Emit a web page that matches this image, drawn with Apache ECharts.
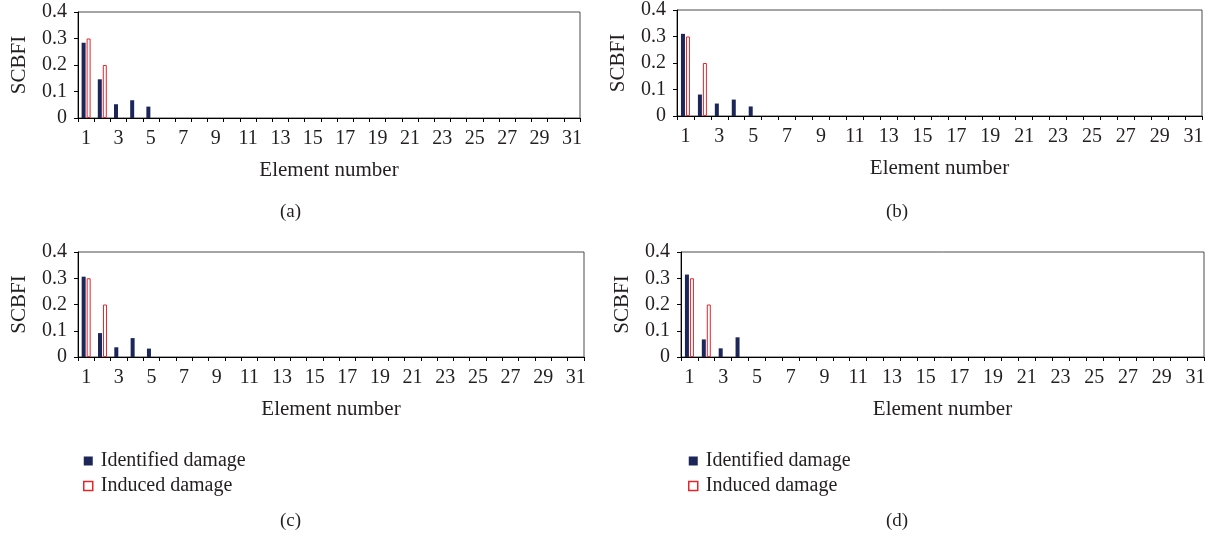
<!DOCTYPE html>
<html>
<head>
<meta charset="utf-8">
<title>SCBFI</title>
<script src="https://cdn.jsdelivr.net/npm/echarts@6/dist/echarts.min.js"></script>
<style>
  html, body { margin: 0; padding: 0; background: #fff; }
  #chart { width: 1213px; height: 541px; }
</style>
</head>
<body>
<div id="chart"></div>
<script>
// element numbers along the x axis
var elements = ['1', '2', '3', '4', '5', '6', '7', '8', '9', '10', '11', '12', '13', '14', '15', '16',
  '17', '18', '19', '20', '21', '22', '23', '24', '25', '26', '27', '28', '29', '30', '31']

// identified damage, one array per panel
var identifiedA = [0.284, 0.146, 0.052, 0.067, 0.043, 0, 0, 0, 0, 0, 0, 0, 0, 0, 0, 0, 0, 0, 0, 0, 0, 0, 0, 0, 0, 0, 0, 0, 0, 0, 0]
var identifiedB = [0.31, 0.081, 0.047, 0.062, 0.036, 0, 0, 0, 0, 0, 0, 0, 0, 0, 0, 0, 0, 0, 0, 0, 0, 0, 0, 0, 0, 0, 0, 0, 0, 0, 0]
var identifiedC = [0.306, 0.091, 0.037, 0.072, 0.032, 0, 0, 0, 0, 0, 0, 0, 0, 0, 0, 0, 0, 0, 0, 0, 0, 0, 0, 0, 0, 0, 0, 0, 0, 0, 0]
var identifiedD = [0.314, 0.067, 0.033, 0.075, 0, 0, 0, 0, 0, 0, 0, 0, 0, 0, 0, 0, 0, 0, 0, 0, 0, 0, 0, 0, 0, 0, 0, 0, 0, 0, 0]
// induced damage (same scenario in every panel)
var induced = [0.3, 0.2, 0, 0, 0, 0, 0, 0, 0, 0, 0, 0, 0, 0, 0, 0, 0, 0, 0, 0, 0, 0, 0, 0, 0, 0, 0, 0, 0, 0, 0]

var panelLabels = ['(a)', '(b)', '(c)', '(d)']
var yTicks = { min: 0, max: 0.4, interval: 0.1 }

var font = '"Liberation Serif", "DejaVu Serif", serif'
var textColor = '#231f20'
var navy = '#1c2658'
var red = '#e8242b'

// plot boxes of the four panels, in pixels
var grids = [
  { left: 78, right: 633, top: 12, height: 106 },
  { left: 677, right: 11, top: 9, height: 107 },
  { left: 78, right: 629, top: 252, height: 105 },
  { left: 681, right: 9, top: 252, height: 105 },
]
var identifiedAll = [identifiedA, identifiedB, identifiedC, identifiedD]

// zero-height outlined bars would leave a red line on the axis, so drop their border
var inducedData = induced.map(function (v) {
  return v === 0 ? { value: v, itemStyle: { borderWidth: 0 } } : v
})

var myChart = echarts.init(document.getElementById('chart'))
var option

var xAxes = []
var yAxes = []
var series = []
grids.forEach(function (g, i) {
  g.show = true
  g.borderColor = '#4a4a4a'
  g.borderWidth = 1
  g.containLabel = false

  xAxes.push({
    type: 'category',
    gridIndex: i,
    data: elements,
    boundaryGap: true,
    name: 'Element number',
    nameLocation: 'middle',
    nameGap: 42,
    nameTextStyle: { fontFamily: font, fontSize: 21, color: textColor },
    axisLine: { lineStyle: { color: '#000', width: 1 } },
    axisTick: { show: true, inside: false, length: 4, interval: 0, lineStyle: { color: '#000' } },
    axisLabel: { interval: 1, margin: 11, fontFamily: font, fontSize: 20, color: textColor },
    splitLine: { show: false },
  })
  yAxes.push({
    type: 'value',
    gridIndex: i,
    min: yTicks.min,
    max: yTicks.max,
    interval: yTicks.interval,
    name: 'SCBFI',
    nameLocation: 'middle',
    nameGap: 48,
    nameTextStyle: { fontFamily: font, fontSize: 21, color: textColor },
    axisLine: { show: true, lineStyle: { color: '#000', width: 1 } },
    axisTick: { show: true, inside: false, length: 4, lineStyle: { color: '#000' } },
    axisLabel: { margin: 11, fontFamily: font, fontSize: 20, color: textColor },
    splitLine: { show: false },
  })
  series.push({
    name: 'Identified damage',
    type: 'bar',
    xAxisIndex: i,
    yAxisIndex: i,
    data: identifiedAll[i],
    barWidth: 4,
    barGap: '25%',
    itemStyle: { color: navy },
    silent: true,
  })
  series.push({
    name: 'Induced damage',
    type: 'bar',
    xAxisIndex: i,
    yAxisIndex: i,
    data: inducedData,
    barWidth: 4,
    barGap: '25%',
    itemStyle: { color: '#fff', borderColor: red, borderWidth: 1 },
    silent: true,
  })
})

var legendBase = {
  data: ['Identified damage', 'Induced damage'],
  orient: 'vertical',
  top: 446,
  icon: 'rect',
  itemWidth: 9,
  itemHeight: 9,
  itemGap: 5,
  selectedMode: false,
  itemStyle: { borderWidth: 1.5 },
  textStyle: { fontFamily: font, fontSize: 20, color: textColor, padding: [0, 0, 0, 3] },
}

option = {
  backgroundColor: '#fff',
  animation: false,
  title: [
    { text: panelLabels[0], left: 280, top: 203 },
    { text: panelLabels[1], left: 886, top: 203 },
    { text: panelLabels[2], left: 280, top: 512 },
    { text: panelLabels[3], left: 886, top: 512 },
  ].map(function (t) {
    t.padding = 0
    t.textStyle = { fontFamily: font, fontSize: 19, fontWeight: 'normal', color: textColor }
    return t
  }),
  legend: [
    Object.assign({}, legendBase, { left: 78 }),
    Object.assign({}, legendBase, { left: 683 }),
  ],
  grid: grids,
  xAxis: xAxes,
  yAxis: yAxes,
  series: series,
}

option && myChart.setOption(option)

window.addEventListener('resize', function () {
  myChart.resize()
})
</script>
</body>
</html>
